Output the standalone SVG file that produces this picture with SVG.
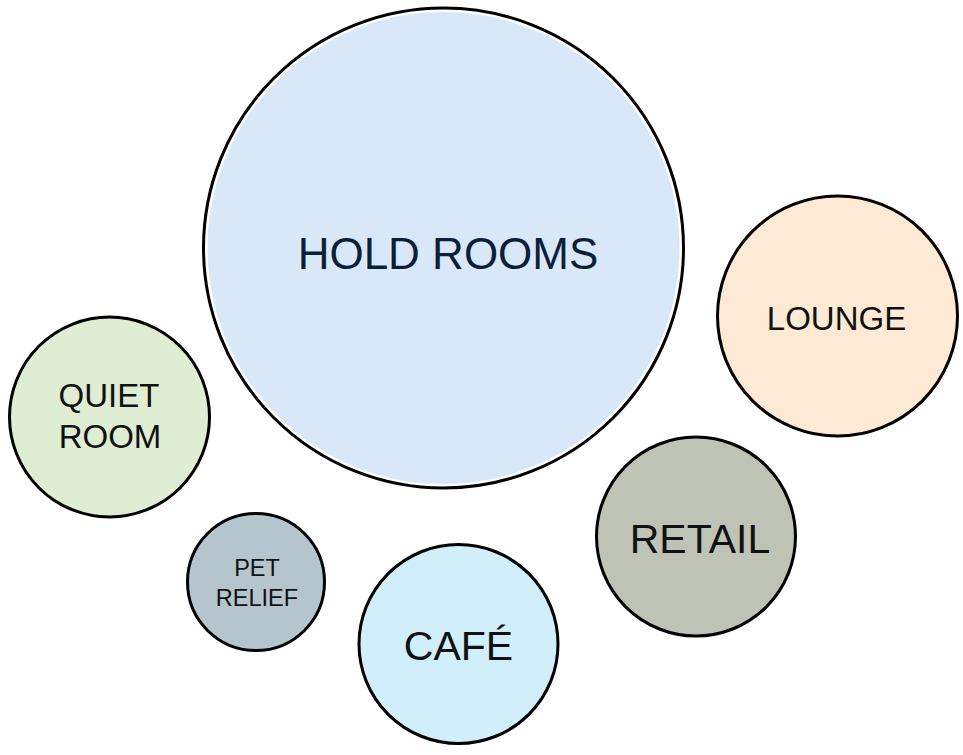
<svg xmlns="http://www.w3.org/2000/svg" width="963" height="755" viewBox="0 0 963 755">
<style>
.ring{stroke:#000;stroke-width:3}
.lbl{font-family:"Liberation Sans",Arial,sans-serif;fill:#111;text-anchor:middle}
</style>
<rect width="963" height="755" fill="#fff"/>
<g id="connectors"/>
<g id="hold-rooms">
<circle cx="443.5" cy="248" r="240" fill="#fff" class="ring"/>
<circle cx="443.5" cy="248" r="236" fill="#d9e8f9"/>
<text x="448" y="269" class="lbl" font-size="44" style="fill:#0c1f38">HOLD ROOMS</text>
</g>
<g id="lounge">
<circle cx="837.5" cy="316" r="120" fill="#fde9d4" class="ring"/>
<text x="836.5" y="330" class="lbl" font-size="33">LOUNGE</text>
</g>
<g id="quiet-room">
<circle cx="109.5" cy="417" r="100" fill="#dfedd3" class="ring"/>
<text x="109" y="407" class="lbl" font-size="33">QUIET</text>
<text x="110" y="448" class="lbl" font-size="33">ROOM</text>
</g>
<g id="pet-relief">
<circle cx="256" cy="582" r="68.5" fill="#b4c5cd" class="ring"/>
<text x="257" y="576" class="lbl" font-size="23.5">PET</text>
<text x="257" y="606" class="lbl" font-size="23.5">RELIEF</text>
</g>
<g id="cafe">
<circle cx="458.5" cy="644" r="99.5" fill="#d1eefb" class="ring"/>
<text x="458.5" y="660" class="lbl" font-size="41">CAFÉ</text>
</g>
<g id="retail">
<circle cx="696" cy="536.5" r="99.5" fill="#bec3b5" class="ring"/>
<text x="700" y="553" class="lbl" font-size="41">RETAIL</text>
</g>
</svg>
